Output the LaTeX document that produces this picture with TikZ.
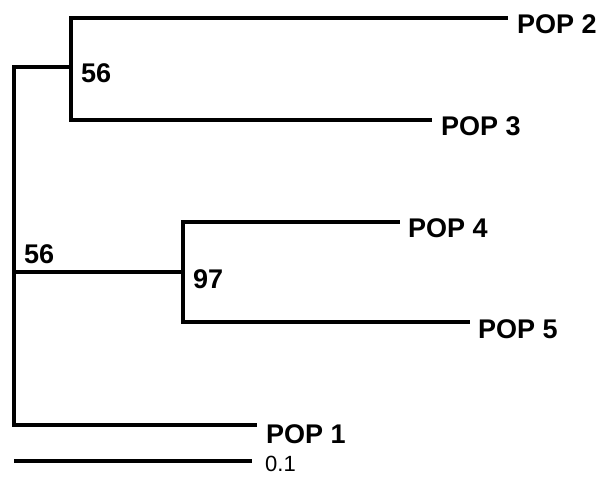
\documentclass[tikz,border=0pt]{standalone}
\usepackage{fontspec}
\setmainfont{Liberation Sans}
\begin{document}
\begin{tikzpicture}[x=1pt,y=-1pt,
  branch/.style={line width=4pt, line join=miter},
  lbl/.style={anchor=base west, inner sep=0pt, font=\fontsize{27}{30}\selectfont\bfseries},
  scl/.style={anchor=base west, inner sep=0pt, font=\fontsize{22}{24}\selectfont}]
\useasboundingbox (0,0) rectangle (602,477);
% internal nodes
\coordinate (root) at (14,272);
\coordinate (a) at (71,67);
\coordinate (b) at (183,272);
% leaves
\coordinate (l2) at (508,18);
\coordinate (l3) at (432,120);
\coordinate (l4) at (400,222);
\coordinate (l5) at (470,322);
\coordinate (l1) at (257,425);
% branches
\draw[branch] (root) |- (a);
\draw[branch] (root) |- (l1);
\draw[branch] (root) -- (b);
\draw[branch] (a) |- (l2);
\draw[branch] (a) |- (l3);
\draw[branch] (b) |- (l4);
\draw[branch] (b) |- (l5);
% labels
\node[lbl] (t2) at (517,33) {POP 2};
\node[lbl] (t3) at (441,135) {POP 3};
\node[lbl] (t4) at (408,237) {POP 4};
\node[lbl] (t5) at (478,338) {POP 5};
\node[lbl] (t1) at (266,443) {POP 1};
\node[lbl] (sa) at (81,82) {56};
\node[lbl] (sr) at (24,263) {56};
\node[lbl] (sb) at (193,288) {97};
% scale bar
\coordinate (s0) at (14,461);
\coordinate (s1) at (252,461);
\draw[branch] (s0) -- (s1);
\node[scl] (st) at (265,471) {0.1};
\end{tikzpicture}
\end{document}
